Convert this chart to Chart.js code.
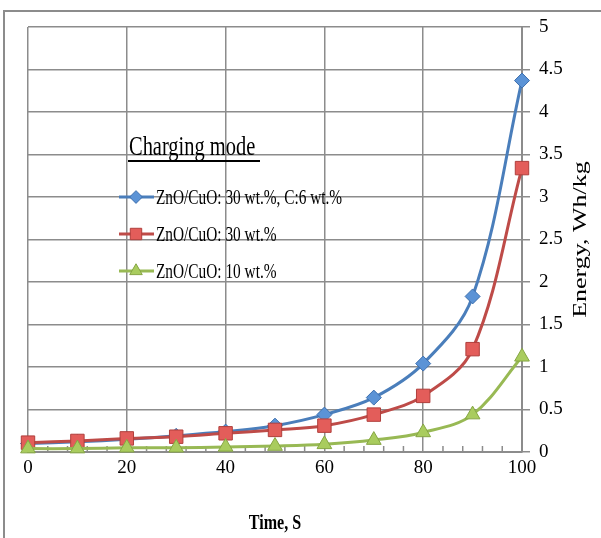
<!DOCTYPE html>
<html><head><meta charset="utf-8">
<script src="https://cdn.jsdelivr.net/npm/chart.js@4/dist/chart.umd.min.js"></script>
<style>html,body{margin:0;padding:0;background:#fff;}canvas{display:block;}</style>
</head><body>
<canvas id="c" width="601" height="538"></canvas>
<script>
// ---- data ----
const timeS = [0, 10, 20, 30, 40, 50, 60, 70, 80, 90, 100];
const energyC6 = [0.10, 0.12, 0.15, 0.19, 0.24, 0.31, 0.44, 0.64, 1.04, 1.83, 4.37];
const energy30 = [0.11, 0.13, 0.16, 0.18, 0.22, 0.26, 0.31, 0.44, 0.66, 1.21, 3.34];
const energy10 = [0.04, 0.04, 0.05, 0.05, 0.06, 0.07, 0.09, 0.14, 0.23, 0.44, 1.12];
const seriesNames = ['ZnO/CuO: 30 wt.%, C:6 wt.%', 'ZnO/CuO: 30 wt.%', 'ZnO/CuO: 10 wt.%'];
const legendTitle = 'Charging mode';
const xTitle = 'Time, S';
const yTitle = 'Energy, Wh/kg';

const SERIF = "'Liberation Serif', 'DejaVu Serif', serif";
const SQ = 0.73;
const GRID = '#8c8c8c';

const styles = [
  {line: '#4a7ebb', fill: '#5b93d6', border: '#3d6fae', pointStyle: 'rectRot', radius: 7.5},
  {line: '#be4b48', fill: '#e35d5a', border: '#b03f3c', pointStyle: 'rect', radius: 9.5},
  {line: '#98b954', fill: '#a9cc5e', border: '#86a644', pointStyle: 'triangle', radius: 8.5}
];
const seriesValues = [energyC6, energy30, energy10];

const datasets = seriesValues.map((vals, i) => ({
  label: seriesNames[i],
  data: timeS.map((t, k) => ({x: t, y: vals[k]})),
  borderColor: styles[i].line,
  backgroundColor: styles[i].fill,
  pointBackgroundColor: styles[i].fill,
  pointBorderColor: styles[i].border,
  pointBorderWidth: 1,
  pointStyle: styles[i].pointStyle,
  pointRadius: styles[i].radius,
  borderWidth: 3,
  tension: 0.35,
  clip: false,
  fill: false
})).reverse();

function condText(ctx, text, x, y, font, align, sq) {
  ctx.save();
  ctx.translate(x, y);
  ctx.scale(sq, 1);
  ctx.font = font;
  ctx.textAlign = align;
  ctx.textBaseline = 'middle';
  ctx.fillStyle = '#000';
  ctx.fillText(text, 0, 0);
  ctx.restore();
}

const framePlugin = {
  id: 'frame',
  beforeDraw(chart) {
    const ctx = chart.ctx;
    ctx.save();
    ctx.fillStyle = '#fff';
    ctx.fillRect(0, 0, chart.width, chart.height);
    ctx.strokeStyle = GRID;
    ctx.lineWidth = 2;
    ctx.beginPath();
    ctx.moveTo(4, chart.height);
    ctx.lineTo(4, 11);
    ctx.lineTo(chart.width, 11);
    ctx.stroke();
    ctx.restore();
  },
  beforeDatasetsDraw(chart) {
    const ctx = chart.ctx;
    const xs = chart.scales.x;
    const b = chart.chartArea.bottom;
    ctx.save();
    ctx.strokeStyle = GRID;
    ctx.lineWidth = 1.5;
    for (let v = 4; v < 100; v += 4) {
      if (v % 20 === 0) continue;
      const px = xs.getPixelForValue(v);
      ctx.beginPath();
      ctx.moveTo(px, b);
      ctx.lineTo(px, b - 6);
      ctx.stroke();
    }
    ctx.restore();
  },
  afterDraw(chart) {
    const ctx = chart.ctx;
    const ca = chart.chartArea;
    // axis titles
    condText(ctx, xTitle, (ca.left + ca.right) / 2, 523, "bold 22px " + SERIF, 'center', SQ);
    ctx.save();
    ctx.translate(581, (ca.top + ca.bottom) / 2);
    ctx.rotate(-Math.PI / 2);
    ctx.scale(1, SQ);
    ctx.font = "26px " + SERIF;
    ctx.textAlign = 'center';
    ctx.textBaseline = 'middle';
    ctx.fillStyle = '#000';
    ctx.fillText(yTitle, 0, 0);
    ctx.restore();
    // legend title
    condText(ctx, legendTitle, 129, 148, "28px " + SERIF, 'left', SQ);
    ctx.save();
    ctx.strokeStyle = '#000';
    ctx.lineWidth = 2;
    ctx.beginPath();
    ctx.moveTo(128, 161);
    ctx.lineTo(260, 161);
    ctx.stroke();
    ctx.restore();
    // legend entries
    const rows = [197, 234, 271];
    seriesNames.forEach((name, i) => {
      const y = rows[i];
      const st = styles[i];
      ctx.save();
      ctx.strokeStyle = st.line;
      ctx.lineWidth = 3;
      ctx.beginPath();
      ctx.moveTo(119, y);
      ctx.lineTo(154, y);
      ctx.stroke();
      ctx.fillStyle = st.fill;
      ctx.strokeStyle = st.border;
      ctx.lineWidth = 1;
      Chart.helpers.drawPoint(ctx, {pointStyle: st.pointStyle, radius: st.radius * 0.85, rotation: 0, borderWidth: 1}, 136, y);
      ctx.restore();
      condText(ctx, name, 156, y + 1, "21px " + SERIF, 'left', SQ);
    });
  }
};

new Chart(document.getElementById('c'), {
  type: 'line',
  data: {datasets},
  options: {
    responsive: false,
    animation: false,
    devicePixelRatio: 1,
    layout: {padding: {left: 28, top: 27, right: 0, bottom: 0}},
    plugins: {legend: {display: false}, tooltip: {enabled: false}, title: {display: false}},
    scales: {
      x: {
        type: 'linear',
        min: 0, max: 100,
        ticks: {stepSize: 20, color: '#000', font: {family: SERIF, size: 19}, padding: 5, maxRotation: 0},
        grid: {color: GRID, lineWidth: 1.5, drawTicks: false},
        border: {color: GRID, width: 2},
        afterFit(s) { s.height = 86; }
      },
      y: {
        position: 'right',
        min: 0, max: 5,
        ticks: {stepSize: 0.5, color: '#000', font: {family: SERIF, size: 19}, padding: 9,
          callback: v => String(Number(v))},
        grid: {color: GRID, lineWidth: 1.5, tickLength: 8},
        border: {color: GRID, width: 2},
        afterFit(s) { s.width = 79; }
      }
    }
  },
  plugins: [framePlugin]
});
</script>
</body></html>
